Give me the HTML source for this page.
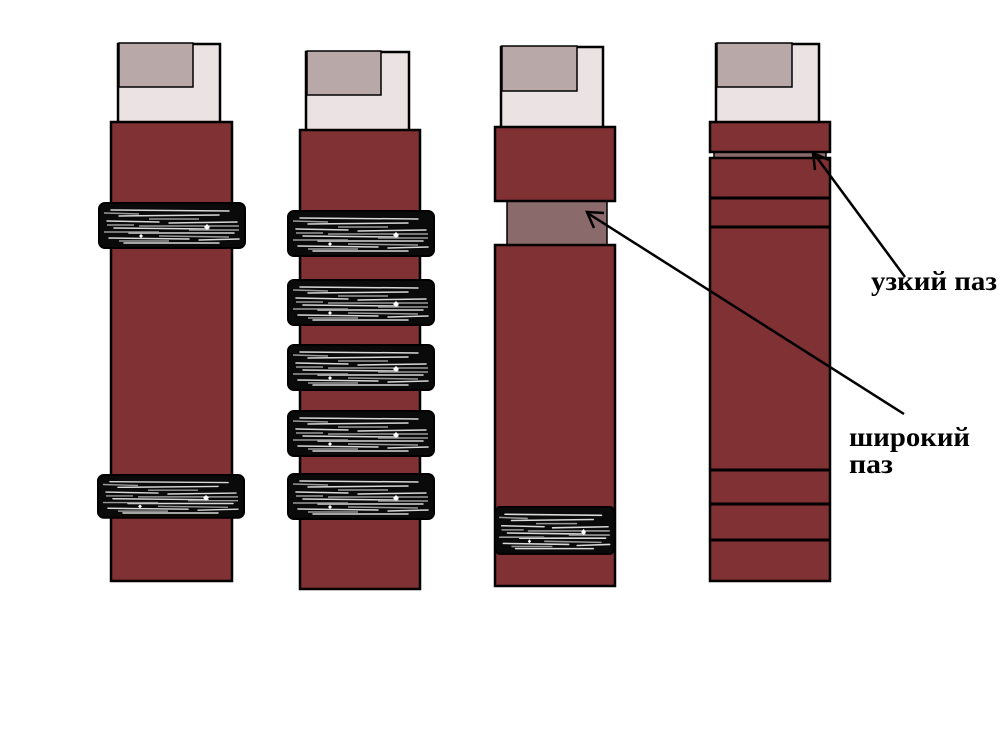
<!DOCTYPE html>
<html><head><meta charset="utf-8">
<style>html,body{margin:0;padding:0;background:#fff;}svg{display:block}</style>
</head><body>
<svg width="1000" height="750" viewBox="0 0 1000 750" xmlns="http://www.w3.org/2000/svg">
<defs>
<g id="band">
  <rect x="0" y="0" width="146" height="45" rx="6" fill="#0a0a0a" stroke="#000" stroke-width="2"/>
  <g stroke="#d8d8d8" stroke-width="1.5" fill="none" stroke-linecap="round">
    <path d="M12 7 L130 8"/><path d="M20 13 L120 12"/><path d="M8 18 L60 19"/>
    <path d="M70 20 L138 19"/><path d="M15 25 L110 26"/><path d="M30 30 L135 30"/>
    <path d="M10 35 L90 36"/><path d="M100 37 L140 36"/><path d="M25 40 L120 40"/>
  </g>
  <g stroke="#999" stroke-width="1.5" fill="none">
    <path d="M5 10 L40 11"/><path d="M50 16 L100 16"/><path d="M40 23 L140 23"/>
    <path d="M5 29 L60 29"/><path d="M60 33 L130 34"/><path d="M8 22 L35 22"/>
    <path d="M90 27 L140 27"/><path d="M20 38 L70 38"/>
  </g>
  <path d="M105 24 l3 -3 l3 3 l-3 3z M40 33 l2-2 l2 2 l-2 2z" fill="#fff"/>
</g>
</defs>
<g stroke="#000" stroke-width="2.5">
<rect x="118" y="44" width="102" height="80" fill="#ebe3e3"/>
<rect x="119" y="43" width="74" height="44" fill="#b9a8a8" stroke-width="1.5"/>
<rect x="111" y="122" width="121" height="459" fill="#7f3133"/>
<rect x="306" y="52" width="103" height="80" fill="#ebe3e3"/>
<rect x="307" y="51" width="74" height="44" fill="#b9a8a8" stroke-width="1.5"/>
<rect x="300" y="130" width="120" height="459" fill="#7f3133"/>
<rect x="501" y="47" width="102" height="81" fill="#ebe3e3"/>
<rect x="502" y="46" width="75" height="45" fill="#b9a8a8" stroke-width="1.5"/>
<rect x="507" y="200" width="100" height="46" fill="#8a6a6a" stroke-width="1.5"/>
<rect x="495" y="127" width="120" height="74" fill="#7f3133"/>
<rect x="495" y="245" width="120" height="341" fill="#7f3133"/>
<rect x="716" y="44" width="103" height="80" fill="#ebe3e3"/>
<rect x="717" y="43" width="75" height="44" fill="#b9a8a8" stroke-width="1.5"/>
<rect x="714" y="150" width="112" height="9" fill="#8a6a6a" stroke-width="1.5"/>
<rect x="710" y="122" width="120" height="30" fill="#7f3133"/>
<rect x="710" y="158" width="120" height="423" fill="#7f3133"/>
</g>
<g stroke="#000" stroke-width="3">
<line x1="710" y1="198" x2="830" y2="198"/>
<line x1="710" y1="227" x2="830" y2="227"/>
<line x1="710" y1="470" x2="830" y2="470"/>
<line x1="710" y1="504" x2="830" y2="504"/>
<line x1="710" y1="540" x2="830" y2="540"/>
</g>
<use href="#band" transform="translate(99,203)"/>
<use href="#band" transform="translate(98,475) scale(1,0.95)"/>
<use href="#band" transform="translate(288,211)"/>
<use href="#band" transform="translate(288,280)"/>
<use href="#band" transform="translate(288,345)"/>
<use href="#band" transform="translate(288,411)"/>
<use href="#band" transform="translate(288,474)"/>
<use href="#band" transform="translate(495,507) scale(0.82,1.04)"/>
<g stroke="#000" stroke-width="2.5" fill="none">
<line x1="905" y1="277" x2="815" y2="155"/>
<path d="M815 170 L813 153 L829 160"/>
<line x1="904" y1="414" x2="589" y2="214"/>
<path d="M594 228 L587 212 L604 213"/>
</g>
<g font-family="'Liberation Serif','DejaVu Serif',serif" font-weight="bold" font-size="27" fill="#000">
<text x="871" y="290" textLength="126" lengthAdjust="spacingAndGlyphs">узкий паз</text>
<text x="849" y="446" textLength="121" lengthAdjust="spacingAndGlyphs">широкий</text>
<text x="849" y="473" textLength="44" lengthAdjust="spacingAndGlyphs">паз</text>
</g>
</svg>
</body></html>
